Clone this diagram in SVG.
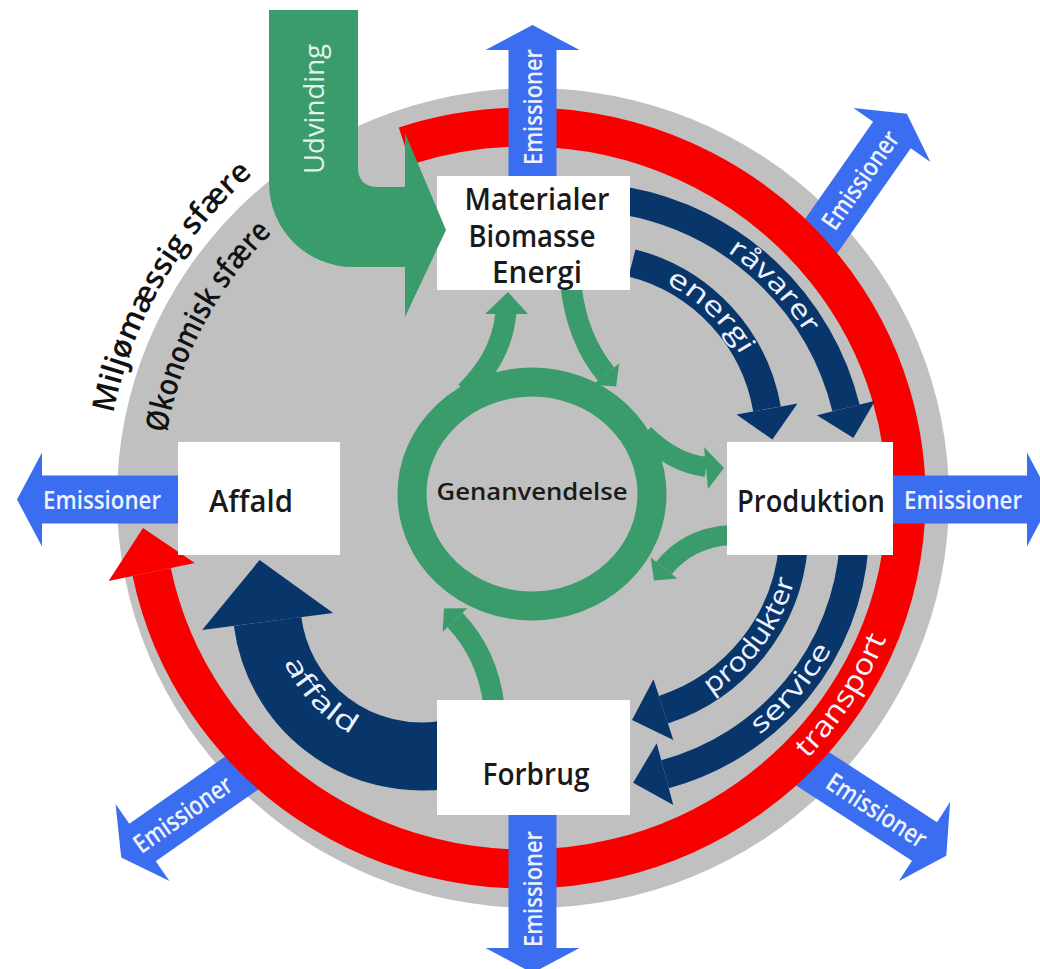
<svg xmlns="http://www.w3.org/2000/svg" width="1040" height="969" viewBox="0 0 1040 969">
<defs>
<style>
.em{fill:#3b6df0}
.emt{fill:#eef3ff;font-family:"Open Sans","Noto Sans","DejaVu Sans",sans-serif;font-size:26px;font-weight:600;text-anchor:middle}
.navy{fill:none;stroke:#08366b}
.navyh{fill:#08366b}
.grn{fill:none;stroke:#3a9b6b}
.grnf{fill:#3a9b6b}
.box{fill:#ffffff}
.lbl{fill:#1a1a1a;font-family:"Open Sans","Noto Sans","DejaVu Sans",sans-serif;font-size:30px;font-weight:600;text-anchor:middle}
.arc{fill:#eef3ff;font-family:"Open Sans","Noto Sans","DejaVu Sans",sans-serif;font-size:27px;font-weight:500;text-anchor:middle}
.sph{fill:#111;font-family:"Open Sans","Noto Sans","DejaVu Sans",sans-serif;font-size:31px;font-weight:600;text-anchor:middle}
</style>
<path id="pRav" d="M 668.1,221.6 A 269 269 0 0 1 833.1,394.9"/>
<path id="pEne" d="M 629.4,270 A 176 176 0 0 1 755.5,390.5"/>
<path id="pPro" d="M 655.7,719.3 A 196 196 0 0 0 800.7,519.7"/>
<path id="pSer" d="M 666.8,780.9 A 263 263 0 0 0 860.7,549.8"/>
<path id="pTra" d="M 719.5,826.2 A 389 379 0 0 0 912.5,531"/>
<path id="pAff" d="M 271.5,609.4 A 150 150 0 0 0 403,750.4"/>
<path id="pMil" d="M 106.6,535.3 A 428 428 0 0 1 355.5,108.5"/>
<path id="pOko" d="M 164,544.9 A 372 372 0 0 1 362.7,167.3"/>
</defs>

<g id="sphere">
<ellipse cx="533" cy="498" rx="416" ry="410" fill="#c0c0c0"/>
</g>

<g id="connectors">
<!-- diagonal emission arrows (under red ring) -->
<g id="em-topright" transform="translate(805.9,257.9) rotate(-55)"><polygon class="em" points="0,-23 150,-23 150,-47 176,0 150,47 150,23 0,23"/></g>
<g id="em-botright" transform="translate(798.7,759.8) rotate(33)"><polygon class="em" points="0,-23 150,-23 150,-47 176,0 150,47 150,23 0,23"/></g>
<g id="em-botleft" transform="translate(257.2,762.2) rotate(145)"><polygon class="em" points="0,-23 140,-23 140,-47 166,0 140,47 140,23 0,23"/></g>

<!-- transport ring -->
<g id="transport">
<path d="M 404.8,146 A 381 371 0 1 1 151.7,572" fill="none" stroke="#f80000" stroke-width="39"/>
<polygon points="108.6,581 194.8,563 143,528" fill="#f80000"/>
</g>

<!-- axial emission arrows -->
<g id="em-top" transform="translate(532.5,185) rotate(-90)"><polygon class="em" points="0,-24 135,-24 135,-47 160,0 135,47 135,24 0,24"/></g>
<g id="em-bottom" transform="translate(532.5,805) rotate(90)"><polygon class="em" points="0,-24 143,-24 143,-47 168,0 143,47 143,24 0,24"/></g>
<g id="em-left" transform="translate(185,499.5) rotate(180)"><polygon class="em" points="0,-24 143,-24 143,-47 168,0 143,47 143,24 0,24"/></g>
<g id="em-right" transform="translate(885,499.5)"><polygon class="em" points="0,-24 142,-24 142,-47 167,0 142,47 142,24 0,24"/></g>

<!-- economic flows -->
<g id="flow-ravarer">
<path class="navy" stroke-width="28" d="M 626,201 A 278 278 0 0 1 846,408"/>
<polygon class="navyh" points="816.9,415.2 875.1,400.8 853.4,438.1"/>
</g>
<g id="flow-energi">
<path class="navy" stroke-width="28" d="M 632,263 A 183 183 0 0 1 767,409"/>
<polygon class="navyh" points="736.5,414.4 797.5,403.6 772.4,439.5"/>
</g>
<g id="flow-produkter">
<path class="navy" stroke-width="29" d="M 793.3,546.5 A 189 189 0 0 1 663.4,709.7"/>
<polygon class="navyh" points="653.5,679.3 673.3,740.1 632,719.9"/>
</g>
<g id="flow-service">
<path class="navy" stroke-width="29" d="M 854.1,544.8 A 256 256 0 0 1 665,774.2"/>
<polygon class="navyh" points="656.7,743.3 673.3,805.1 633.1,782.7"/>
</g>
<g id="flow-affald">
<path class="navy" stroke-width="68" d="M 442.9,755 A 155 155 0 0 1 267.6,621.5"/>
<polygon class="navyh" points="333.1,613 202.1,630 259.6,560"/>
</g>

<!-- recycling -->
<g id="recycling">
<ellipse class="grn" cx="532" cy="494" rx="120" ry="112" stroke-width="29"/>
<path class="grn" stroke-width="21" d="M 466,392 C 485,372 502,350 506,313"/>
<polygon class="grnf" points="485,314 508,292 528,314"/>
<path class="grn" stroke-width="21" d="M 571,286 C 575,322 588,352 606,374"/>
<polygon class="grnf" points="619.2,363.2 592.8,384.8 616.1,386.4"/>
<path class="grn" stroke-width="20" d="M 644,434 C 662,452 682,464 706,467"/>
<polygon class="grnf" points="704,447 724,468 708,489"/>
<path class="grn" stroke-width="20" d="M 730,535 C 702,537 680,548 664,568"/>
<polygon class="grnf" points="677.3,578.6 650.7,557.4 654,580.5"/>
<path class="grn" stroke-width="21" d="M 494,706 C 490,672 476,642 455,620"/>
<polygon class="grnf" points="467.3,608.3 442.7,631.7 444,608.4"/>
</g>
</g>

<g id="node-materialer">
<rect class="box" x="437" y="176" width="193" height="114"/>
<text class="lbl" x="537" y="210" textLength="145" lengthAdjust="spacingAndGlyphs">Materialer</text>
<text class="lbl" x="532" y="247" textLength="127" lengthAdjust="spacingAndGlyphs">Biomasse</text>
<text class="lbl" x="537" y="283" textLength="90" lengthAdjust="spacingAndGlyphs">Energi</text>
</g>
<g id="node-affald">
<rect class="box" x="178" y="442" width="162" height="113"/>
<text class="lbl" x="251" y="512" textLength="84" lengthAdjust="spacingAndGlyphs">Affald</text>
</g>
<g id="node-produktion">
<rect class="box" x="727" y="442" width="166" height="113"/>
<text class="lbl" x="811" y="512" textLength="148" lengthAdjust="spacingAndGlyphs">Produktion</text>
</g>
<g id="node-forbrug">
<rect class="box" x="437" y="700" width="193" height="115"/>
<text class="lbl" x="536" y="785" textLength="107" lengthAdjust="spacingAndGlyphs">Forbrug</text>
</g>
<g id="node-genanvendelse">
<text class="lbl" x="532" y="500" style="font-size:24px" textLength="191" lengthAdjust="spacingAndGlyphs">Genanvendelse</text>
</g>

<g id="node-udvinding">
<path d="M 269,10 L 358,10 L 358,167 Q 358,187 378,187 L 405,187 L 405,133 L 446,230 L 405,317 L 405,267 L 353,267 A 84 84 0 0 1 269,183 Z" fill="#3a9b6b"/>
<text transform="translate(314,109) rotate(-90)" y="10" style="fill:#e3f3ea;font-family:'Open Sans','Noto Sans',sans-serif;font-size:28px;font-weight:500;text-anchor:middle" textLength="130" lengthAdjust="spacingAndGlyphs">Udvinding</text>
</g>

<g id="labels">
<text class="emt" transform="translate(532.5,107) rotate(-90)" y="9" textLength="116" lengthAdjust="spacingAndGlyphs">Emissioner</text>
<text class="emt" transform="translate(532.5,889) rotate(-90)" y="9" textLength="116" lengthAdjust="spacingAndGlyphs">Emissioner</text>
<text class="emt" transform="translate(102,499.5)" y="9" textLength="118" lengthAdjust="spacingAndGlyphs">Emissioner</text>
<text class="emt" transform="translate(963,499.5)" y="9" textLength="118" lengthAdjust="spacingAndGlyphs">Emissioner</text>
<text class="emt" transform="translate(860.4,180.1) rotate(-55)" y="9" textLength="114" lengthAdjust="spacingAndGlyphs">Emissioner</text>
<text class="emt" transform="translate(876.7,810.5) rotate(33)" y="9" textLength="114" lengthAdjust="spacingAndGlyphs">Emissioner</text>
<text class="emt" transform="translate(182.7,814.4) rotate(-35)" y="9" textLength="114" lengthAdjust="spacingAndGlyphs">Emissioner</text>

<text class="arc"><textPath href="#pRav" startOffset="50%" textLength="115" lengthAdjust="spacingAndGlyphs">råvarer</textPath></text>
<text class="arc"><textPath href="#pEne" startOffset="50%" textLength="105" lengthAdjust="spacingAndGlyphs">energi</textPath></text>
<text class="arc"><textPath href="#pPro" startOffset="50%" textLength="145" lengthAdjust="spacingAndGlyphs">produkter</textPath></text>
<text class="arc"><textPath href="#pSer" startOffset="50%" textLength="113" lengthAdjust="spacingAndGlyphs">service</textPath></text>
<text class="arc" style="font-size:29px"><textPath href="#pTra" startOffset="50%" textLength="145" lengthAdjust="spacingAndGlyphs">transport</textPath></text>
<text class="arc"><textPath href="#pAff" startOffset="50%" textLength="100" lengthAdjust="spacingAndGlyphs">affald</textPath></text>

<text class="sph"><textPath href="#pMil" startOffset="50%" textLength="282" lengthAdjust="spacingAndGlyphs">Miljømæssig sfære</textPath></text>
<text class="sph"><textPath href="#pOko" startOffset="50%" textLength="230" lengthAdjust="spacingAndGlyphs">Økonomisk sfære</textPath></text>
</g>
</svg>
